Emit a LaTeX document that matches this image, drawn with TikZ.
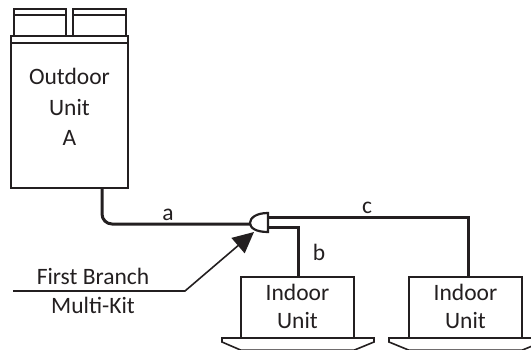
\documentclass[tikz,border=0pt]{standalone}
\usepackage{fontspec}
\setmainfont{Carlito}
\usetikzlibrary{arrows.meta}
\definecolor{ink}{HTML}{231F20}
\tikzset{
  every node/.style={text=ink,font=\fontsize{23.5}{30}\selectfont},
  unitbox/.style={draw=ink,line width=1.6pt,fill=white,inner sep=0pt,align=center},
  thinbox/.style={draw=ink,line width=1.6pt},
  pipe/.style={draw=ink,line width=3pt},
  lbl/.style={inner sep=0pt,anchor=base},
}
\begin{document}
\begin{tikzpicture}[x=1pt,y=-1pt]
\useasboundingbox (0,0) rectangle (531,349);
\clip (0,0) rectangle (531,349);
% outdoor unit
\draw[thinbox] (14,9) rectangle (66,36);
\draw[thinbox] (14,15) -- (66,15);
\draw[thinbox] (73,9) rectangle (126,36);
\draw[thinbox] (73,15) -- (126,15);
\node[unitbox,minimum width=117pt,minimum height=152pt] (outdoor) at (69.5,112) {};
\draw[thinbox] (11,43) -- (128,43);
\node[lbl] at (69.5,84) {Outdoor};
\node[lbl] at (69.5,115) {Unit};
\node[lbl] at (69.5,145) {A};
% indoor units
\node[unitbox,minimum width=113pt,minimum height=61pt] (in1) at (297.5,307.5) {};
\node[unitbox,minimum width=113pt,minimum height=61pt] (in2) at (465.5,307.5) {};
\node[lbl] at (297.5,300) {Indoor};
\node[lbl] at (297.5,328) {Unit};
\node[lbl] at (465.5,300) {Indoor};
\node[lbl] at (465.5,328) {Unit};
\draw[thinbox] (222,338) -- (222,342) -- (241,350.2) -- (354,350.2) -- (374,342) -- (374,338) -- cycle;
\draw[thinbox] (389,338) -- (389,342) -- (409,350.2) -- (522,350.2) -- (542,342) -- (542,338) -- cycle;
% branch
\coordinate (bt) at (268,213);
\coordinate (bb) at (268,232);
\draw[thinbox,line width=2.2pt] (bt) .. controls (256,213) and (250,218) .. (250,223) .. controls (250,228) and (256,232) .. (bb) -- cycle;
% pipes
\draw[pipe,rounded corners=10pt] (102,188) -- (102,224) -- (250,224);
\draw[pipe] (268,217) -- (468,217) -- (468,277);
\draw[pipe] (268,227) -- (298,227) -- (298,277);
\node[lbl] at (168,220) {a};
\node[lbl] at (367,213) {c};
\node[lbl] at (319,260) {b};
% leader
\coordinate (tip) at (254,232);
\draw[draw=ink,line width=1.6pt,-{Triangle[length=21pt,width=20pt,fill=ink]}] (13,291) -- (185,291) -- (tip);
\node[lbl] at (93,284) {First Branch};
\node[lbl] at (93,313) {Multi-Kit};
\end{tikzpicture}
\end{document}
